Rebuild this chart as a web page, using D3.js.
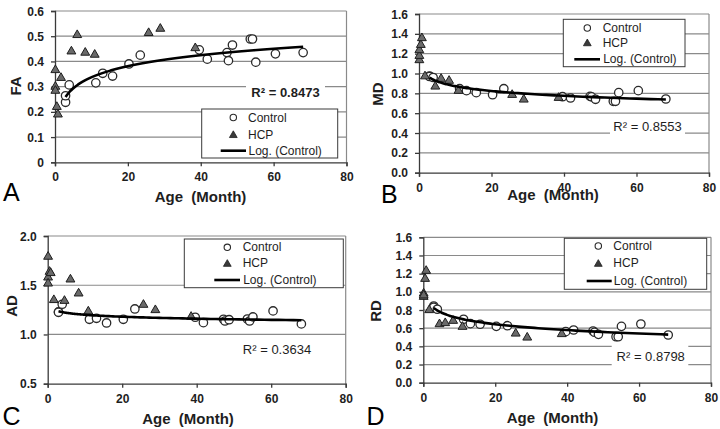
<!DOCTYPE html>
<html>
<head>
<meta charset="utf-8">
<script src="https://cdn.jsdelivr.net/npm/d3@7"></script>
<style>
  html, body { margin: 0; padding: 0; background: #fff; }
  svg { display: block; font-family: "Liberation Sans", Arial, sans-serif; }
</style>
</head>
<body>
<svg id="chart" width="720" height="429"></svg>
<script>
// ---------------- DATA ----------------
const xTicks = [0, 20, 40, 60, 80];
const controlAge = [2.9, 2.9, 3.9, 11.2, 13.1, 15.8, 20.3, 23.4, 39.6, 41.8, 47.2, 47.6, 48.7, 53.6, 54.2, 55.1, 60.5, 68.1];
const hcpAge = [0.1, 0.1, 0.1, 0.5, 0.8, 1.65, 4.5, 6.1, 8.3, 10.9, 25.7, 28.9, 38.5];

const faControl = [0.238, 0.264, 0.307, 0.315, 0.353, 0.342, 0.39, 0.425, 0.446, 0.409, 0.435, 0.403, 0.465, 0.489, 0.489, 0.397, 0.43, 0.435];
const faHcp = [0.369, 0.303, 0.287, 0.223, 0.193, 0.338, 0.443, 0.508, 0.438, 0.43, 0.516, 0.533, 0.456];

const mdControl = [0.975, 0.97, 0.96, 0.847, 0.827, 0.807, 0.786, 0.847, 0.766, 0.753, 0.77, 0.765, 0.74, 0.72, 0.72, 0.807, 0.827, 0.743];
const mdHcp = [1.143, 1.186, 1.244, 1.297, 1.365, 0.98, 0.877, 0.955, 0.935, 0.834, 0.793, 0.746, 0.763];

const adControl = [1.229, 1.225, 1.307, 1.154, 1.164, 1.117, 1.154, 1.259, 1.175, 1.12, 1.154, 1.137, 1.15, 1.157, 1.137, 1.178, 1.239, 1.107];
const adHcp = [1.798, 1.587, 1.526, 1.645, 1.632, 1.358, 1.35, 1.567, 1.425, 1.242, 1.31, 1.256, 1.188];

const rdControl = [0.844, 0.83, 0.808, 0.698, 0.65, 0.643, 0.62, 0.627, 0.562, 0.58, 0.569, 0.555, 0.532, 0.506, 0.506, 0.62, 0.646, 0.525];
const rdHcp = [0.954, 0.99, 0.97, 1.152, 1.24, 0.808, 0.653, 0.665, 0.69, 0.624, 0.55, 0.506, 0.544];

const faTicks = [0, 0.1, 0.2, 0.3, 0.4, 0.5, 0.6];
const mdTicks = [0, 0.2, 0.4, 0.6, 0.8, 1.0, 1.2, 1.4, 1.6];
const adTicks = [0.5, 1.0, 1.5, 2.0];
const rdTicks = [0, 0.2, 0.4, 0.6, 0.8, 1.0, 1.2, 1.4, 1.6];

const legendLabels = ["Control", "HCP", "Log. (Control)"];
const xTitle = "Age\u00a0\u00a0(Month)";
const r2Labels = ["R\u00b2 = 0.8473", "R\u00b2 = 0.8553", "R\u00b2 = 0.3634", "R\u00b2 = 0.8798"];

// ---------------- LAYOUT ----------------
const panels = [
  { letter: "A", ylab: "FA", ctrl: faControl, hcp: faHcp, ticks: faTicks, fmt: d => d === 0 ? "0" : d3.format(".1f")(d),
    x0: 55, x1: 346.5, yTop: 11, yBot: 162.3,
    letterPos: [3, 201], ylabPos: [15.8, 86], xlabPos: [200.5, 196], xTickY: 177,
    r2: { text: r2Labels[0], bold: true, cx: 285.5, cy: 92, box: [246, 83, 79, 18] },
    leg: { box: [201.7, 109, 136, 49], mx: 233.3, tx: 248, rows: [117.5, 134.5, 150.7], lx: [220.7, 246] } },
  { letter: "B", ylab: "MD", ctrl: mdControl, hcp: mdHcp, ticks: mdTicks, fmt: d3.format(".1f"),
    x0: 419, x1: 709, yTop: 14, yBot: 172.7,
    letterPos: [381, 203], ylabPos: [377.2, 94], xlabPos: [553, 194], xTickY: 188,
    r2: { text: r2Labels[1], bold: false, cx: 647.5, cy: 126, box: [610, 118, 75, 17] },
    leg: { box: [563.3, 19.3, 121.7, 47.4], mx: 587.3, tx: 602.7, rows: [28, 42.7, 59.3], lx: [574.3, 600] } },
  { letter: "C", ylab: "AD", ctrl: adControl, hcp: adHcp, ticks: adTicks, fmt: d3.format(".1f"),
    x0: 47.7, x1: 345.7, yTop: 236, yBot: 383.7,
    letterPos: [2.5, 425], ylabPos: [11.3, 306], xlabPos: [188, 418], xTickY: 399.5,
    r2: { text: r2Labels[2], bold: false, cx: 277, cy: 349.5, box: [238, 341, 78, 17] },
    leg: { box: [184.3, 239, 159, 48.7], mx: 227.3, tx: 242.7, rows: [247.3, 263.3, 280], lx: [214.3, 240] } },
  { letter: "D", ylab: "RD", ctrl: rdControl, hcp: rdHcp, ticks: rdTicks, fmt: d3.format(".1f"),
    x0: 423.3, x1: 711, yTop: 237.3, yBot: 382.7,
    letterPos: [366.5, 425], ylabPos: [375.3, 311], xlabPos: [552.5, 417.5], xTickY: 398.5,
    r2: { text: r2Labels[3], bold: false, cx: 650.7, cy: 356, box: [611.7, 344, 76.6, 22] },
    leg: { box: [564.3, 238.3, 142.4, 51], mx: 598.3, tx: 613.3, rows: [246, 263.3, 281], lx: [586.7, 611.7] } }
];

const svg = d3.select("#chart");
const GRID = "#8a8a8a", AXIS = "#3a3a3a", TXT = "#1e1e1e";

function logFit(xs, ys) {
  const lx = xs.map(Math.log);
  const n = xs.length;
  const mx = d3.mean(lx), my = d3.mean(ys);
  let sxy = 0, sxx = 0;
  for (let i = 0; i < n; i++) { sxy += (lx[i] - mx) * (ys[i] - my); sxx += (lx[i] - mx) ** 2; }
  const a = sxy / sxx;
  return { a, b: my - a * mx };
}

const tri = d3.symbol().type(d3.symbolTriangle);

panels.forEach(p => {
  const ticks = p.ticks;
  const x = d3.scaleLinear().domain([0, 80]).range([p.x0, p.x1]);
  const y = d3.scaleLinear().domain([ticks[0], ticks[ticks.length - 1]]).range([p.yBot, p.yTop]);
  const g = svg.append("g");

  // gridlines
  g.selectAll(".grid").data(ticks.slice(1)).join("line")
    .attr("x1", p.x0).attr("x2", p.x1)
    .attr("y1", d => y(d)).attr("y2", d => y(d))
    .attr("stroke", GRID).attr("stroke-width", 1.2);
  // right border
  g.append("line").attr("x1", p.x1).attr("x2", p.x1).attr("y1", p.yTop).attr("y2", p.yBot)
    .attr("stroke", GRID).attr("stroke-width", 1.2);

  // axes
  const yAxis = d3.axisLeft(y).tickValues(ticks).tickFormat(p.fmt).tickSize(4).tickPadding(7);
  const xAxis = d3.axisBottom(x).tickValues(xTicks).tickSize(4).tickPadding(5);
  const ya = g.append("g").attr("transform", `translate(${p.x0},0)`).call(yAxis);
  const xa = g.append("g").attr("transform", `translate(0,${p.yBot})`).call(xAxis);
  [ya, xa].forEach(a => {
    a.select(".domain").attr("stroke", AXIS).attr("stroke-width", 1.3);
    a.selectAll(".tick line").attr("stroke", AXIS).attr("stroke-width", 1.3);
    a.selectAll("text").attr("fill", TXT).attr("font-size", 12).attr("font-weight", "bold")
      .attr("font-family", '"Liberation Sans", Arial, sans-serif');
  });
  xa.selectAll("text").attr("dy", null).attr("y", p.xTickY - p.yBot).attr("dominant-baseline", "central");
  ya.selectAll("text").attr("dy", "0.34em");

  // R2 label with white background
  const rb = p.r2.box;
  g.append("rect").attr("x", rb[0]).attr("y", rb[1]).attr("width", rb[2]).attr("height", rb[3]).attr("fill", "#fff");
  g.append("text").attr("x", p.r2.cx).attr("y", p.r2.cy).attr("text-anchor", "middle")
    .attr("dominant-baseline", "central").attr("font-size", 13)
    .attr("font-weight", p.r2.bold ? "bold" : "normal").attr("fill", TXT).text(p.r2.text);

  // control circles
  const ctrlPts = controlAge.map((a, i) => [a, p.ctrl[i]]);
  g.selectAll(".ctrl").data(ctrlPts).join("circle")
    .attr("cx", d => x(d[0])).attr("cy", d => y(d[1])).attr("r", 4.2)
    .attr("fill", "#fff").attr("stroke", "#2a2a2a").attr("stroke-width", 1.3);

  // HCP triangles
  const hcpPts = hcpAge.map((a, i) => [a, p.hcp[i]]);
  g.selectAll(".hcp").data(hcpPts).join("path")
    .attr("d", tri.size(34)())
    .attr("transform", d => `translate(${x(d[0])},${y(d[1]) + 0.8})`)
    .attr("fill", "#6a6a6a").attr("stroke", "#1e1e1e").attr("stroke-width", 1);

  // log trendline fitted to control data
  const fit = logFit(controlAge, p.ctrl);
  const amin = d3.min(controlAge), amax = d3.max(controlAge);
  const curve = d3.range(0, 101).map(i => {
    const a = amin * Math.pow(amax / amin, i / 100);
    return [a, fit.a * Math.log(a) + fit.b];
  });
  g.append("path").datum(curve)
    .attr("d", d3.line().x(d => x(d[0])).y(d => y(d[1])))
    .attr("fill", "none").attr("stroke", "#000").attr("stroke-width", 2.6);

  // legend
  const L = p.leg;
  g.append("rect").attr("x", L.box[0]).attr("y", L.box[1]).attr("width", L.box[2]).attr("height", L.box[3])
    .attr("fill", "#fff").attr("stroke", "#3a3a3a").attr("stroke-width", 1);
  g.append("circle").attr("cx", L.mx).attr("cy", L.rows[0]).attr("r", 3.2)
    .attr("fill", "#fff").attr("stroke", "#2a2a2a").attr("stroke-width", 1.1);
  g.append("path").attr("d", tri.size(26)()).attr("transform", `translate(${L.mx},${L.rows[1] + 0.8})`)
    .attr("fill", "#3a3a3a").attr("stroke", "#1e1e1e").attr("stroke-width", 0.8);
  g.append("line").attr("x1", L.lx[0]).attr("x2", L.lx[1]).attr("y1", L.rows[2]).attr("y2", L.rows[2])
    .attr("stroke", "#000").attr("stroke-width", 2.6);
  legendLabels.forEach((t, i) => {
    g.append("text").attr("x", i === 2 ? L.tx + 0.5 : L.tx).attr("y", L.rows[i]).attr("dominant-baseline", "central")
      .attr("font-size", 12).attr("fill", TXT).text(t);
  });

  // axis titles
  g.append("text").attr("transform", `translate(${p.ylabPos[0]},${p.ylabPos[1]}) rotate(-90)`)
    .attr("text-anchor", "middle").attr("dominant-baseline", "central")
    .attr("font-size", 15).attr("font-weight", "bold").attr("fill", TXT).text(p.ylab);
  g.append("text").attr("x", p.xlabPos[0]).attr("y", p.xlabPos[1]).attr("text-anchor", "middle")
    .attr("dominant-baseline", "central").attr("font-size", 15).attr("font-weight", "bold")
    .attr("fill", TXT).text(xTitle);

  // panel letter
  g.append("text").attr("x", p.letterPos[0]).attr("y", p.letterPos[1])
    .attr("font-size", 25).attr("fill", "#000").text(p.letter);
});
</script>
</body>
</html>
